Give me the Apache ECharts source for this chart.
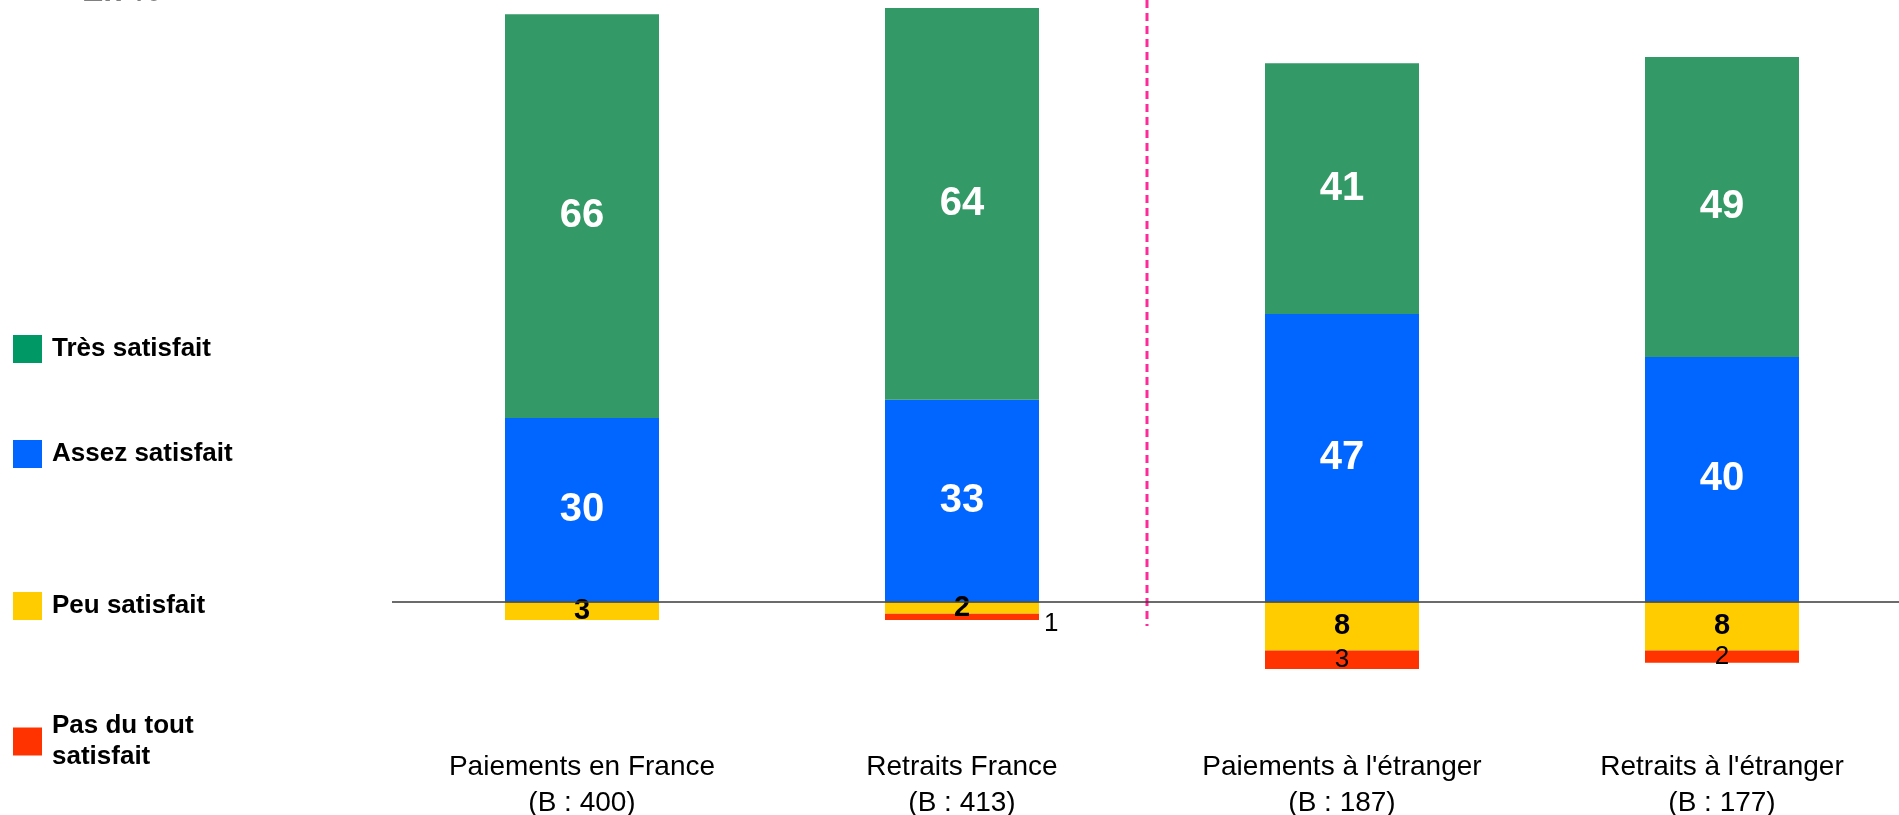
<!DOCTYPE html>
<html>
<head>
<meta charset="utf-8">
<title>Satisfaction</title>
<script src="https://cdn.jsdelivr.net/npm/echarts@6/dist/echarts.min.js"></script>
<style>
  html, body { margin: 0; padding: 0; background: #fff; }
  #chart { width: 1899px; height: 815px; }
</style>
</head>
<body>
<div id="chart"></div>
<script>
// données
var categories = ['Paiements en France', 'Retraits France', "Paiements à l'étranger", "Retraits à l'étranger"];
var bases = [400, 413, 187, 177];
var tresSatisfait = [66, 64, 41, 49];
var assezSatisfait = [30, 33, 47, 40];
var peuSatisfait = [3, 2, 8, 8];
var pasDuToutSatisfait = [0, 1, 3, 2];

var FONT = "'Liberation Sans', Arial, sans-serif";

var myChart = echarts.init(document.getElementById('chart'));

function legendFor(name, top, color, extra) {
    var lg = {
        data: [{ name: name, itemStyle: { color: color } }],
        orient: 'vertical',
        left: 13,
        top: top,
        padding: 0,
        icon: 'rect',
        itemWidth: 29,
        itemHeight: 28,
        selectedMode: false,
        textStyle: {
            fontFamily: FONT, fontSize: 26, fontWeight: 'bold', color: '#000',
            lineHeight: 28, padding: [0, 0, 0, 5]
        }
    };
    if (extra) { Object.assign(lg.textStyle, extra.textStyle || {}); if (extra.formatter) lg.formatter = extra.formatter; }
    return lg;
}

var option = {
    animation: false,
    backgroundColor: '#fff',
    textStyle: { fontFamily: FONT },
    grid: { left: 392, width: 1520, top: 2, height: 722, outerBoundsMode: 'none', containLabel: false },
    legend: [
        legendFor('Très satisfait', 335, '#009966'),
        legendFor('Assez satisfait', 440, '#0066ff'),
        legendFor('Peu satisfait', 592, '#ffcc00'),
        legendFor('Pas du tout satisfait', 695, '#ff3300', {
            formatter: function () { return 'Pas du tout\nsatisfait'; },
            textStyle: { lineHeight: 31, padding: [31, 0, 0, 5] }
        })
    ],
    xAxis: {
        type: 'category',
        data: categories,
        axisLine: { show: false },
        axisTick: { show: false },
        axisLabel: {
            interval: 0,
            margin: 25,
            fontFamily: FONT,
            fontSize: 28,
            lineHeight: 36,
            color: '#000',
            formatter: function (v, i) { return v + '\n(B : ' + bases[i] + ')'; }
        }
    },
    yAxis: {
        type: 'value',
        min: -20,
        max: 98,
        show: false,
        splitLine: { show: false }
    },
    graphic: [
        {
            type: 'text', x: 82, y: -8,
            style: { text: 'En %', font: 'bold 32px ' + FONT, fill: '#808080', verticalAlign: 'middle' }
        },
        {
            type: 'line',
            shape: { x1: 1147, y1: 0, x2: 1147, y2: 626 },
            style: { stroke: '#ff2a9a', lineWidth: 3, lineDash: [8, 5] }
        }
    ],
    series: [
        {
            name: 'Assez satisfait',
            type: 'bar',
            stack: 'total',
            barWidth: 154,
            itemStyle: { color: '#0066ff' },
            label: { show: true, position: 'inside', color: '#fff', fontSize: 40, fontWeight: 'bold', fontFamily: FONT },
            data: assezSatisfait,
            markLine: {
                silent: true,
                symbol: 'none',
                label: { show: false },
                lineStyle: { color: '#3a3a3a', width: 1.5, type: 'solid' },
                data: [{ yAxis: 0 }]
            },
            z: 2
        },
        {
            name: 'Très satisfait',
            type: 'bar',
            stack: 'total',
            barWidth: 154,
            itemStyle: { color: '#339966' },
            label: { show: true, position: 'inside', color: '#fff', fontSize: 40, fontWeight: 'bold', fontFamily: FONT },
            data: tresSatisfait
        },
        {
            name: 'Peu satisfait',
            type: 'bar',
            stack: 'total',
            barWidth: 154,
            itemStyle: { color: '#ffcc00' },
            label: {
                show: true, position: 'inside', color: '#000', fontSize: 29, fontWeight: 'bold', fontFamily: FONT,
                formatter: function (p) { return Math.abs(p.value); }
            },
            data: peuSatisfait.map(function (v) { return -v; })
        },
        {
            name: 'Pas du tout satisfait',
            type: 'bar',
            stack: 'total',
            barWidth: 154,
            itemStyle: { color: '#ff3300' },
            label: {
                show: true, position: 'inside', color: '#000', fontSize: 26, fontFamily: FONT,
                formatter: function (p) { return p.value === 0 ? '' : Math.abs(p.value); }
            },
            data: pasDuToutSatisfait.map(function (v) {
                // segment trop fin : étiquette à droite de la barre
                if (v > 0 && v < 2) {
                    return { value: -v, label: { position: 'right', distance: 5, offset: [0, 7] } };
                }
                return -v;
            })
        }
    ]
};

myChart.setOption(option);
</script>
</body>
</html>
